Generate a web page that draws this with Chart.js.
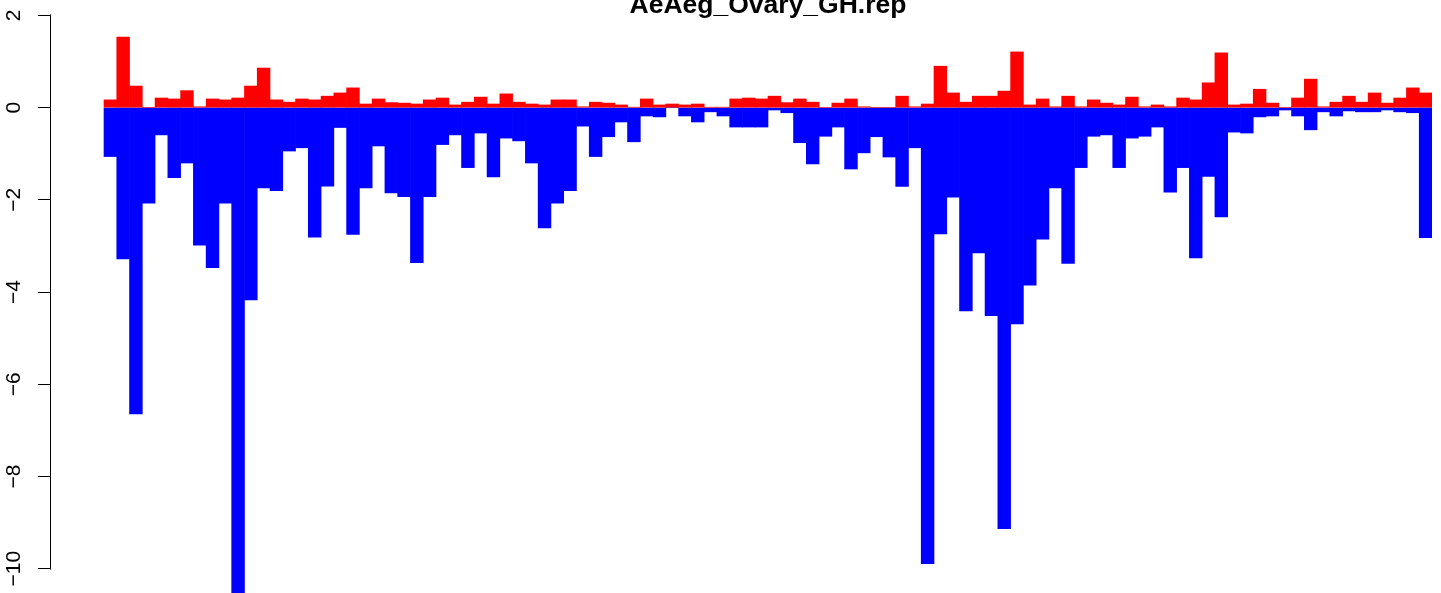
<!DOCTYPE html>
<html>
<head>
<meta charset="utf-8">
<script src="https://cdn.jsdelivr.net/npm/chart.js@4/dist/chart.umd.min.js"></script>
<style>
html, body { margin: 0; padding: 0; background: #fff; }
#wrap { width: 1441px; height: 593px; position: relative; }
</style>
</head>
<body>
<div id="wrap"><canvas id="rep_bars"></canvas></div>
<script>
const chartTitle = "AeAeg_Ovary_GH.rep"

// values, one per bar (104 bars)
const upValues = [
    0.17, 1.53, 0.47, 0, 0.21, 0.19, 0.37, 0.02, 0.19, 0.17,
    0.21, 0.47, 0.86, 0.17, 0.12, 0.19, 0.17, 0.25, 0.32, 0.43,
    0.08, 0.19, 0.11, 0.10, 0.08, 0.17, 0.21, 0.06, 0.12, 0.23,
    0.08, 0.30, 0.12, 0.08, 0.06, 0.17, 0.17, 0.02, 0.12, 0.10,
    0.06, 0.01, 0.19, 0.06, 0.08, 0.06, 0.08, 0.01, 0.01, 0.19,
    0.21, 0.19, 0.25, 0.11, 0.19, 0.12, 0, 0.10, 0.19, 0.02,
    0, 0, 0.25, 0.02, 0.08, 0.90, 0.32, 0.12, 0.25, 0.25,
    0.36, 1.21, 0.06, 0.19, 0.02, 0.25, 0.02, 0.17, 0.10, 0.06,
    0.23, 0.02, 0.06, 0.02, 0.21, 0.17, 0.54, 1.19, 0.06, 0.08,
    0.40, 0.10, 0, 0.21, 0.62, 0.02, 0.12, 0.25, 0.12, 0.32,
    0.10, 0.21, 0.43, 0.32
]
const downValues = [
    -1.06, -3.28, -6.64, -2.07, -0.59, -1.52, -1.20, -2.98, -3.47, -2.07,
    -10.52, -4.17, -1.74, -1.80, -0.94, -0.87, -2.81, -1.70, -0.43, -2.75,
    -1.74, -0.83, -1.85, -1.93, -3.36, -1.93, -0.80, -0.59, -1.30, -0.55,
    -1.50, -0.66, -0.72, -1.20, -2.61, -2.07, -1.80, -0.40, -1.06, -0.63,
    -0.31, -0.74, -0.18, -0.20, 0, -0.18, -0.31, -0.09, -0.18, -0.42,
    -0.42, -0.42, -0.05, -0.11, -0.76, -1.22, -0.62, -0.42, -1.33, -0.98,
    -0.63, -1.07, -1.71, -0.87, -9.89, -2.74, -1.94, -4.41, -3.15, -4.51,
    -9.13, -4.69, -3.85, -2.85, -1.74, -3.38, -1.30, -0.62, -0.59, -1.30,
    -0.66, -0.62, -0.42, -1.83, -1.30, -3.26, -1.49, -2.37, -0.53, -0.55,
    -0.20, -0.18, -0.05, -0.18, -0.48, -0.09, -0.18, -0.07, -0.09, -0.09,
    -0.05, -0.09, -0.11, -2.82
]
const yTicks = [2, 0, -2, -4, -6, -8, -10]

const toPoints = arr => arr.map((v, i) => ({x: i, y: v}))
const axisFont = "'Liberation Sans', Arial, Helvetica, sans-serif"

// R-like extras: axis line spanning the tick range, zero line, clipped title
const rStyle = {
    id: "rStyle",
    beforeDatasetsDraw(chart) {
        const {ctx, scales: {x, y}} = chart
        const y0 = Math.round(y.getPixelForValue(0)) - 0.5
        ctx.save()
        ctx.strokeStyle = "#c4c4d8"
        ctx.lineWidth = 1
        ctx.beginPath()
        ctx.moveTo(x.getPixelForValue(-0.5), y0)
        ctx.lineTo(x.getPixelForValue(upValues.length - 0.5), y0)
        ctx.stroke()
        ctx.restore()
    },
    afterDraw(chart) {
        const {ctx, scales: {x, y}} = chart
        ctx.save()
        ctx.strokeStyle = "#000"
        ctx.lineWidth = 1
        ctx.beginPath()
        ctx.moveTo(y.right - 0.5, Math.round(y.getPixelForValue(yTicks[0])) - 0.5)
        ctx.lineTo(y.right - 0.5, Math.round(y.getPixelForValue(yTicks[yTicks.length - 1])) + 0.5)
        ctx.stroke()
        ctx.fillStyle = "#000"
        ctx.font = "bold 26.5px " + axisFont
        ctx.textAlign = "center"
        ctx.textBaseline = "alphabetic"
        ctx.fillText(chartTitle, x.getPixelForValue((upValues.length - 1) / 2), 12.7)
        ctx.restore()
    }
}

const ctx = document.getElementById("rep_bars").getContext("2d")
new Chart(ctx, {
    type: "bar",
    data: {
        datasets: [
            {
                label: "up",
                data: toPoints(upValues),
                backgroundColor: "#ff0000",
                borderWidth: 0,
                grouped: false,
                barPercentage: 1,
                categoryPercentage: 1
            },
            {
                label: "down",
                data: toPoints(downValues),
                backgroundColor: "#0000ff",
                borderWidth: 0,
                grouped: false,
                barPercentage: 1,
                categoryPercentage: 1
            }
        ]
    },
    options: {
        responsive: true,
        maintainAspectRatio: false,
        animation: false,
        layout: {padding: {left: 0, top: 0, right: 9, bottom: 0}},
        scales: {
            x: {
                type: "linear",
                display: false,
                offset: false,
                min: -4.651,
                max: 103.5
            },
            y: {
                min: -10.527,
                max: 2.336,
                afterBuildTicks: s => { s.ticks = yTicks.map(v => ({value: v})) },
                afterFit: s => {
                    s.width = 51
                    s.paddingTop = 0
                    s.paddingBottom = 0
                    s.paddingLeft = 0
                    s.paddingRight = 0
                },
                border: {display: false},
                grid: {
                    drawOnChartArea: false,
                    drawTicks: true,
                    tickLength: 13,
                    tickColor: "#000",
                    tickWidth: 1
                },
                ticks: {
                    minRotation: 90,
                    maxRotation: 90,
                    crossAlign: "center",
                    padding: 6,
                    color: "#000",
                    font: {family: axisFont, size: 21},
                    callback: v => String(v).replace("-", "\u2212")
                }
            }
        },
        plugins: {
            legend: {display: false},
            tooltip: {enabled: false},
            title: {display: false}
        }
    },
    plugins: [rStyle]
})
</script>
</body>
</html>
